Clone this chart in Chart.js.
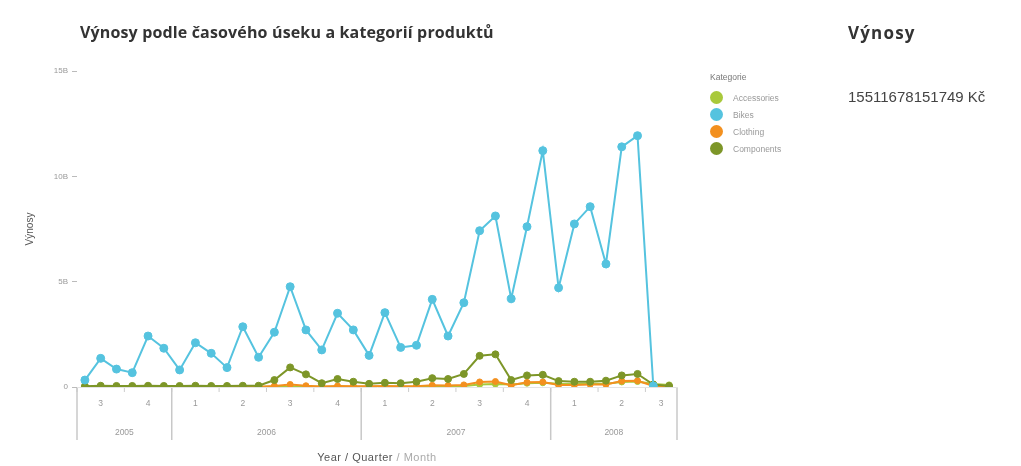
<!DOCTYPE html>
<html>
<head>
<meta charset="utf-8">
<script src="https://cdn.jsdelivr.net/npm/chart.js@4"></script>
<style>
  html, body { margin:0; padding:0; background:#fff; width:1021px; height:466px; overflow:hidden; }
  body { position:relative; font-family:"Liberation Sans", Arial, sans-serif; }
  #wrap { position:absolute; left:0; top:0; width:1021px; height:466px; }
  .title { position:absolute; left:80px; top:21px; font-family:"Open Sans", sans-serif; font-size:16px; letter-spacing:0.15px; font-weight:bold; color:#333; }
  .kpiT { position:absolute; left:848px; top:21px; font-family:"Open Sans", sans-serif; font-size:17px; letter-spacing:1.2px; font-weight:bold; color:#333; }
  .kpiV { position:absolute; left:848px; top:88px; font-size:15px; color:#444; }
  #legend { position:absolute; left:710px; top:72px; font-size:8.5px; color:#999; }
  #legend .lt { color:#777; margin-bottom:7px; }
  #legend .it { display:flex; align-items:center; height:17px; }
  #legend .dot { width:13px; height:13px; border-radius:50%; margin-right:10px; }
  .xt { position:absolute; top:451px; left:0; width:754px; text-align:center; font-size:11px; letter-spacing:0.5px; color:#555; }
  .xt span { color:#aaa; }
</style>
</head>
<body>
<div id="wrap"><canvas id="c" width="1021" height="466"></canvas></div>
<div class="title">Výnosy podle časového úseku a kategorií produktů</div>
<div class="kpiT">Výnosy</div>
<div class="kpiV">15511678151749 Kč</div>
<div id="legend"></div>
<div class="xt">Year / Quarter <span>/ Month</span></div>
<script>
// ---- data (revenue, in billions) ----
const months = [
  '2005-07','2005-08','2005-09','2005-10','2005-11','2005-12',
  '2006-01','2006-02','2006-03','2006-04','2006-05','2006-06',
  '2006-07','2006-08','2006-09','2006-10','2006-11','2006-12',
  '2007-01','2007-02','2007-03','2007-04','2007-05','2007-06',
  '2007-07','2007-08','2007-09','2007-10','2007-11','2007-12',
  '2008-01','2008-02','2008-03','2008-04','2008-05','2008-06',
  '2008-07','2008-08'
];
const categories = ['Accessories','Bikes','Clothing','Components'];
const accessories = [0.01,0.01,0.01,0.01,0.01,0.01, 0.01,0.01,0.01,0.01,0.01,0.01,
  0.01,0.02,0.01,0.01,0.01,0.01, 0.01,0.01,0.01,0.01,0.02,0.02,
  0.05,0.12,0.14,0.12,0.18,0.20, 0.15,0.14,0.15,0.16,0.24,0.26, 0.14,0.10];
const bikes = [0.33,1.36,0.85,0.68,2.42,1.84, 0.81,2.10,1.60,0.92,2.86,1.41,
  2.60,4.76,2.71,1.76,3.50,2.71, 1.50,3.53,1.88,1.98,4.16,2.42,
  4.00,7.42,8.12,4.19,7.61,11.22, 4.71,7.74,8.56,5.84,11.40,11.93, 0.05,null];
const clothing = [0.01,0.01,0.01,0.01,0.01,0.01, 0.01,0.01,0.01,0.01,0.01,0.01,
  0.05,0.12,0.06,0.02,0.05,0.04, 0.03,0.05,0.04,0.04,0.08,0.07,
  0.10,0.24,0.26,0.08,0.22,0.24, 0.10,0.10,0.12,0.12,0.28,0.30, 0.05,0.03];
const components = [0.04,0.06,0.05,0.05,0.06,0.05, 0.05,0.06,0.05,0.05,0.06,0.06,
  0.33,0.93,0.60,0.18,0.38,0.25, 0.15,0.20,0.18,0.25,0.42,0.38,
  0.62,1.48,1.55,0.33,0.55,0.58, 0.28,0.25,0.25,0.30,0.55,0.62, 0.12,0.05];
const yTicks = [0, 5, 10, 15];
const colors = ['#a9c93b','#55c3df','#f3901f','#7d9628'];

const seriesList = [accessories, bikes, clothing, components];
const orders = [3, 0, 2, 1];
const radii = [3, 4, 3, 3.5];

// legend (HTML)
const lg = document.getElementById('legend');
lg.innerHTML = '<div class="lt">Kategorie</div>' + categories.map((c,i)=>
  `<div class="it"><div class="dot" style="background:${colors[i]}"></div>${c}</div>`).join('');

const hierPlugin = {
  id: 'hier',
  afterDraw(chart) {
    const xs = chart.scales.x, ctx = chart.ctx, ca = chart.chartArea;
    const step = xs.getPixelForValue(1) - xs.getPixelForValue(0);
    const px = i => xs.getPixelForValue(i);
    const bottom = ca.bottom;
    ctx.save();
    const groups = [];
    months.forEach((m, i) => {
      const y = m.slice(0,4), q = Math.floor((parseInt(m.slice(5,7),10)-1)/3)+1;
      const key = y + 'Q' + q;
      if (!groups.length || groups[groups.length-1].key !== key) groups.push({key, y, q, s:i, e:i});
      else groups[groups.length-1].e = i;
    });
    const years = [];
    groups.forEach(g => {
      if (!years.length || years[years.length-1].y !== g.y) years.push({y:g.y, s:g.s, e:g.e});
      else years[years.length-1].e = g.e;
    });
    ctx.font = '8.5px "Liberation Sans", Arial, sans-serif';
    ctx.fillStyle = '#999';
    ctx.textAlign = 'center';
    ctx.textBaseline = 'middle';
    ctx.strokeStyle = '#ccc';
    ctx.lineWidth = 1;
    groups.forEach(g => {
      const cx = (px(g.s) + px(g.e)) / 2;
      ctx.fillText(String(g.q), cx, bottom + 17);
      const bx = px(g.s) - step/2;
      ctx.beginPath(); ctx.moveTo(bx, bottom + 1); ctx.lineTo(bx, bottom + 5); ctx.stroke();
    });
    ctx.strokeStyle = '#c8c8c8';
    ctx.lineWidth = 1.5;
    years.forEach((yy, k) => {
      const cx = (px(yy.s) + px(yy.e)) / 2;
      ctx.fillText(yy.y, cx, bottom + 46);
      const bx = px(yy.s) - step/2;
      ctx.beginPath(); ctx.moveTo(bx, bottom + 1); ctx.lineTo(bx, bottom + 53); ctx.stroke();
      if (k === years.length - 1) {
        const ex = px(yy.e) + step/2;
        ctx.beginPath(); ctx.moveTo(ex, bottom + 1); ctx.lineTo(ex, bottom + 53); ctx.stroke();
      }
    });
    ctx.restore();
  }
};

new Chart(document.getElementById('c'), {
  type: 'line',
  data: {
    labels: months,
    datasets: categories.map((c, i) => ({
      label: c,
      data: seriesList[i],
      borderColor: colors[i],
      backgroundColor: colors[i],
      pointBackgroundColor: colors[i],
      pointBorderColor: colors[i],
      pointRadius: radii[i],
      pointBorderWidth: 1,
      borderWidth: 2,
      tension: 0,
      order: orders[i],
      spanGaps: false
    }))
  },
  options: {
    responsive: false,
    animation: false,
    layout: { padding: { left: 0, right: 344, top: 71, bottom: 0 } },
    plugins: { legend: { display: false }, tooltip: { enabled: false } },
    scales: {
      x: {
        offset: true,
        ticks: { display: false },
        grid: { display: false, drawTicks: false },
        border: { display: true, color: '#e4e4e4', width: 1 },
        afterFit(s) { s.height = 79; }
      },
      y: {
        min: 0, max: 15,
        afterBuildTicks(s) { s.ticks = yTicks.map(v => ({ value: v })); },
        ticks: {
          color: '#999',
          font: { size: 8, family: '"Liberation Sans", Arial, sans-serif' },
          padding: 4,
          callback: v => v === 0 ? '0' : v + 'B'
        },
        grid: { drawOnChartArea: false, drawTicks: true, tickLength: 5, color: '#bbb' },
        border: { display: false },
        title: {
          display: true, text: 'Výnosy', color: '#555',
          font: { size: 10, family: '"Liberation Sans", Arial, sans-serif' },
          padding: { top: 24, bottom: 0 }
        },
        afterFit(s) { s.width = 77; }
      }
    }
  },
  plugins: [hierPlugin]
});
</script>
</body>
</html>
